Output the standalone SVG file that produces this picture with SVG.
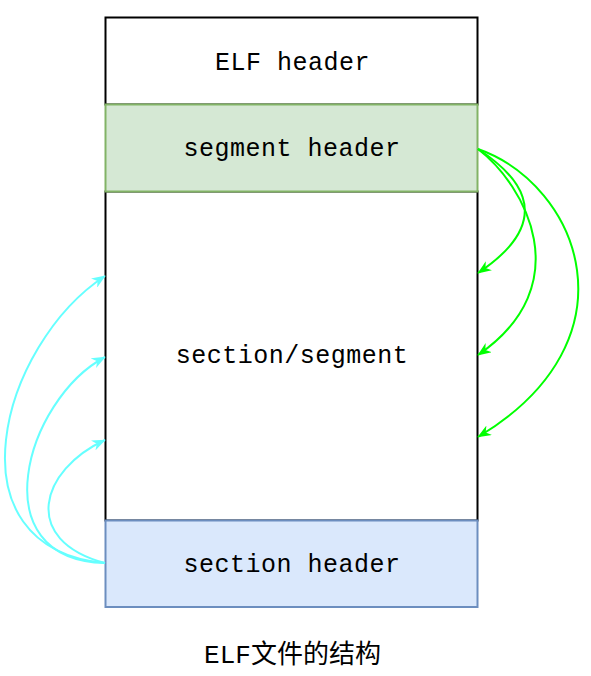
<svg xmlns="http://www.w3.org/2000/svg" width="591" height="676" viewBox="0 0 591 676">
<defs>
<style>
.t{font-family:"Liberation Mono","DejaVu Sans Mono",monospace;font-size:25px;letter-spacing:0.5px;text-anchor:middle;fill:#000}
.cap{font-family:"Liberation Mono","Noto Sans CJK SC",monospace;font-size:26px;text-anchor:middle;fill:#000}
.g{fill:none;stroke:#00ff00;stroke-width:2}
.c{fill:none;stroke:#66ffff;stroke-width:2}
</style>
<marker id="ag" viewBox="0 0 10 8" refX="9.5" refY="4" markerWidth="14" markerHeight="11" markerUnits="userSpaceOnUse" orient="auto">
<path d="M0,0 L10,4 L0,8 L3,4 z" fill="#00ff00"/>
</marker>
<marker id="ac" viewBox="0 0 10 8" refX="9.5" refY="4" markerWidth="14" markerHeight="11" markerUnits="userSpaceOnUse" orient="auto">
<path d="M0,0 L10,4 L0,8 L3,4 z" fill="#66ffff"/>
</marker>
</defs>
<rect width="591" height="676" fill="#fff"/>
<g id="elf-header">
<rect x="105.5" y="17.5" width="372" height="87" fill="#fff" stroke="#000" stroke-width="2"/>
<text class="t" x="292.5" y="70">ELF header</text>
</g>
<g id="section-segment">
<rect x="105.5" y="191.5" width="372" height="329" fill="#fff" stroke="#000" stroke-width="2"/>
<text class="t" x="292" y="363">section/segment</text>
</g>
<g id="segment-header">
<rect x="105.5" y="104.5" width="372" height="87" fill="#d5e8d4" stroke="#82b366" stroke-width="2"/>
<text class="t" x="292" y="156">segment header</text>
</g>
<g id="section-header">
<rect x="105.5" y="520.5" width="372" height="86.5" fill="#dae8fc" stroke="#6c8ebf" stroke-width="2"/>
<text class="t" x="292" y="572">section header</text>
</g>
<g id="connectors">
<path class="g" marker-end="url(#ag)" d="M478,149 C510,170 565,215 478,273"/>
<path class="g" marker-end="url(#ag)" d="M478,149 C525,185 580,285 478,355"/>
<path class="g" marker-end="url(#ag)" d="M478,149 C580,185 640,340 478,437"/>
<path class="c" marker-end="url(#ac)" d="M105,563 C-54,548 0,345 105,276"/>
<path class="c" marker-end="url(#ac)" d="M105,563 C-20,560 25,400 105,357"/>
<path class="c" marker-end="url(#ac)" d="M105,563 C20,540 40,470 105,440"/>
</g>
<g id="caption">
<text class="cap" x="292.5" y="663">ELF文件的结构</text>
</g>
</svg>
